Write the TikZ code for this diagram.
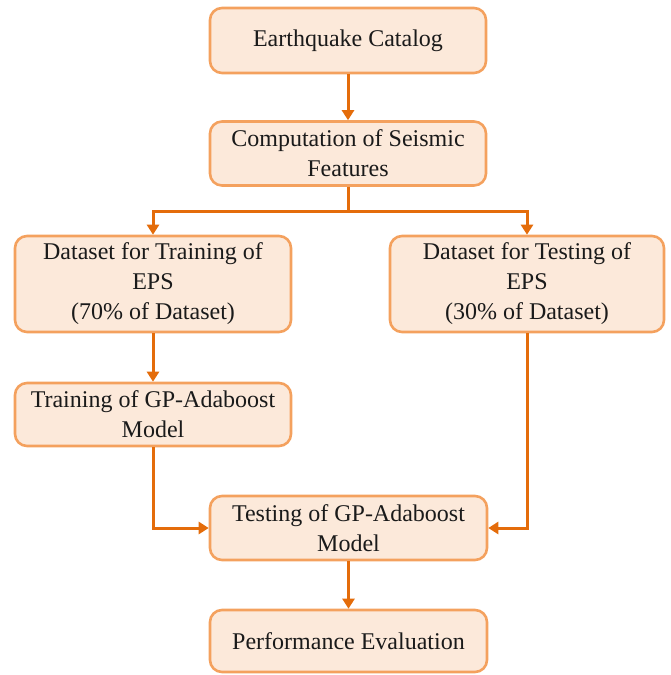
\documentclass[tikz,border=0pt]{standalone}
\usepackage{fontspec}
\setmainfont{Liberation Serif}
\usetikzlibrary{arrows.meta}
\definecolor{boxfill}{HTML}{FCE9DA}
\definecolor{boxline}{HTML}{F4A15E}
\definecolor{arrowc}{HTML}{E46C0A}
\definecolor{txt}{HTML}{1A1A1A}
\tikzset{
  stepbox/.style={draw=boxline, fill=boxfill, line width=2.6pt, rounded corners=12pt,
    text=txt, align=center, inner sep=1pt, font=\fontsize{24}{30}\selectfont},
  conn/.style={draw=arrowc, line width=3pt, -{Triangle[length=10pt,width=12pt]}},
}
\begin{document}
\begin{tikzpicture}[x=1pt,y=-1pt]
\useasboundingbox (0,0) rectangle (670,675);
\node[stepbox, minimum width=276pt, minimum height=65pt] (b1) at (348,40.5) {Earthquake Catalog};
\node[stepbox, minimum width=276pt, minimum height=64pt] (b2) at (348,153.5) {Computation of Seismic\\Features};
\node[stepbox, minimum width=276pt, minimum height=96pt] (b3) at (153,284) {Dataset for Training of\\EPS\\(70\% of Dataset)};
\node[stepbox, minimum width=274pt, minimum height=96pt] (b4) at (527,284) {Dataset for Testing of\\EPS\\(30\% of Dataset)};
\node[stepbox, minimum width=276pt, minimum height=63pt] (b5) at (153,414.5) {Training of GP-Adaboost\\Model};
\node[stepbox, minimum width=277pt, minimum height=64pt] (b6) at (348.5,528) {Testing of GP-Adaboost\\Model};
\node[stepbox, minimum width=277pt, minimum height=62pt] (b7) at (348.5,641) {Performance Evaluation};
\coordinate (split) at (348,211);
\draw[conn] (b1) -- (b2);
\draw[conn] (b2.south) -- (split) -| (b3.north);
\draw[conn] (split) -| (b4.north);
\draw[conn] (b3) -- (b5);
\draw[conn] (b5.south) |- (b6.west);
\draw[conn] (b4.south) |- (b6.east);
\draw[conn] (b6) -- (b7);
\end{tikzpicture}
\end{document}
